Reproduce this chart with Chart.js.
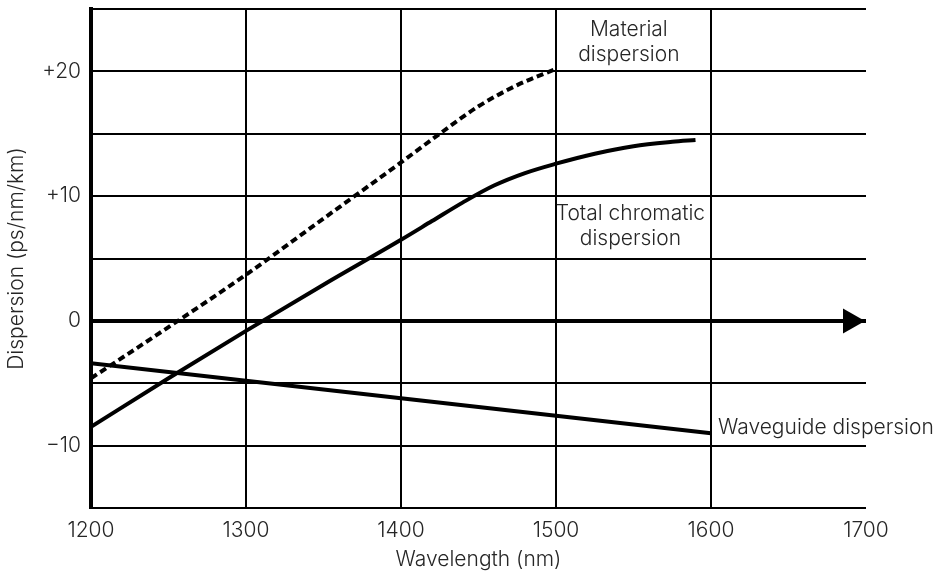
<!DOCTYPE html>
<html>
<head>
<meta charset="utf-8">
<script src="https://cdn.jsdelivr.net/npm/chart.js@4/dist/chart.umd.min.js"></script>
<style>
  html, body { margin: 0; padding: 0; background: #fff; }
  #wrap { width: 943px; height: 574px; }
</style>
</head>
<body>
<div id="wrap"><canvas id="myChart"></canvas></div>
<script>
// wavelength (nm) and dispersion (ps/nm/km)
var materialWl = [1200, 1250, 1300, 1350, 1400, 1425, 1450, 1475, 1500];
var materialD  = [-4.6, -0.5, 3.7, 8.2, 12.7, 15.0, 17.2, 18.9, 20.2];

var totalWl = [1200, 1250, 1300, 1350, 1400, 1420, 1440, 1460, 1480, 1500, 1525, 1550, 1575, 1590];
var totalD  = [-8.5, -4.6, -0.8, 2.9, 6.5, 8.0, 9.5, 10.85, 11.85, 12.6, 13.4, 14.0, 14.35, 14.5];

var waveguideWl = [1200, 1300, 1400, 1500, 1600];
var waveguideD  = [-3.4, -4.8, -6.2, -7.6, -9.0];

var yTickLabels = { '-10': '\u221210', '0': '0', '10': '+10', '20': '+20' };

// curve labels, anchored in data units
var curveLabels = [
    { lines: ['Material', 'dispersion'], x: 1547, y: 22.3, align: 'center', dx: 0 },
    { lines: ['Total chromatic', 'dispersion'], x: 1548, y: 7.6, align: 'center', dx: 0 },
    { lines: ['Waveguide dispersion'], x: 1600, y: -8.6, align: 'left', dx: 7 }
];

var FONT = 'Inter, "Liberation Sans", Arial, sans-serif';
var FSIZE = 21;
var FWEIGHT = 300;
var TEXT = '#262626';

function pts(xs, ys) {
    return xs.map(function (x, i) { return { x: x, y: ys[i] }; });
}

// zero line arrow head + curve labels
var extras = {
    id: 'extras',
    afterDraw: function (chart) {
        var ctx = chart.ctx;
        var xs = chart.scales.x, ys = chart.scales.y;
        var y0 = ys.getPixelForValue(0);
        var tip = chart.chartArea.right - 1;
        ctx.save();
        ctx.fillStyle = '#000';
        ctx.beginPath();
        ctx.moveTo(tip, y0);
        ctx.lineTo(tip - 22, y0 - 12.5);
        ctx.lineTo(tip - 22, y0 + 12.5);
        ctx.closePath();
        ctx.fill();

        ctx.font = FWEIGHT + ' ' + FSIZE + 'px ' + FONT;
        ctx.fillStyle = TEXT;
        ctx.textBaseline = 'middle';
        curveLabels.forEach(function (lb) {
            var px = xs.getPixelForValue(lb.x) + lb.dx;
            var py = ys.getPixelForValue(lb.y) - (lb.lines.length - 1) * 25 / 2;
            ctx.textAlign = lb.align;
            lb.lines.forEach(function (t, i) {
                ctx.fillText(t, px, py + i * 25);
            });
        });
        ctx.restore();
    }
};

var tickFont = { family: FONT, size: FSIZE, weight: FWEIGHT };

var ctx = document.getElementById('myChart').getContext('2d');
var chart = new Chart(ctx, {
    type: 'line',
    data: {
        datasets: [{
            label: 'Material dispersion',
            data: pts(materialWl, materialD),
            borderColor: '#000',
            borderWidth: 4,
            borderDash: [7, 4],
            cubicInterpolationMode: 'monotone',
            pointRadius: 0
        }, {
            label: 'Total chromatic dispersion',
            data: pts(totalWl, totalD),
            borderColor: '#000',
            borderWidth: 4,
            cubicInterpolationMode: 'monotone',
            pointRadius: 0
        }, {
            label: 'Waveguide dispersion',
            data: pts(waveguideWl, waveguideD),
            borderColor: '#000',
            borderWidth: 4,
            tension: 0,
            pointRadius: 0
        }]
    },
    options: {
        responsive: true,
        maintainAspectRatio: false,
        animation: false,
        layout: { padding: { top: 9, right: 77, left: 0, bottom: 0 } },
        plugins: {
            legend: { display: false },
            tooltip: { enabled: false }
        },
        scales: {
            x: {
                type: 'linear',
                min: 1200,
                max: 1700,
                afterFit: function (s) { s.height = 66; s.paddingLeft = 0; s.paddingRight = 0; },
                ticks: {
                    stepSize: 100,
                    padding: 10,
                    color: TEXT,
                    font: tickFont,
                    callback: function (v) { return String(v); }
                },
                grid: {
                    drawTicks: false,
                    lineWidth: 2,
                    color: function (c) { return c.tick && c.tick.value === 1700 ? 'rgba(0,0,0,0)' : '#000'; }
                },
                border: { display: false },
                title: {
                    display: true,
                    text: 'Wavelength (nm)',
                    color: TEXT,
                    font: tickFont,
                    padding: { top: 0, bottom: 2 }
                }
            },
            y: {
                min: -15,
                max: 25,
                afterFit: function (s) { s.width = 91; s.paddingTop = 0; s.paddingBottom = 0; },
                ticks: {
                    stepSize: 5,
                    padding: 10,
                    color: TEXT,
                    font: tickFont,
                    callback: function (v) { return yTickLabels[String(v)] || ''; }
                },
                grid: {
                    drawTicks: false,
                    color: '#000',
                    lineWidth: function (c) { return c.tick && c.tick.value === 0 ? 4 : 2; }
                },
                border: { display: true, color: '#000', width: 4 },
                title: {
                    display: true,
                    text: 'Dispersion (ps/nm/km)',
                    color: TEXT,
                    font: tickFont,
                    padding: { top: 4, bottom: 0 }
                }
            }
        }
    },
    plugins: [extras]
});
</script>
</body>
</html>
